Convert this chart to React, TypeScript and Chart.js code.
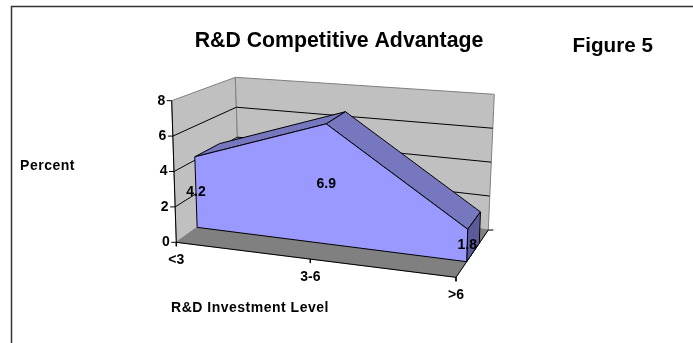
import React, { useEffect, useRef } from "react";
import { Chart, registerables } from "chart.js";

Chart.register(...registerables);

const categories = ["<3", "3-6", ">6"];
const percentValues = [4.2, 6.9, 1.8];
const valueTicks = [0, 2, 4, 6, 8];

const W = 693;
const H = 343;
const V_MAX = 8;

const FONT = '"Liberation Sans", Arial, sans-serif';
const TEXT = "#000000";

// The eight corners of the 3-D box on the canvas.
const BOX = {
  frontLeftBottom: [176.3, 242.3],
  frontLeftTop: [171.7, 100.7],
  frontRightBottom: [456, 277.3],
  frontRightTop: [460, 129],
  backLeftBottom: [239.5, 197],
  backLeftTop: [235.3, 77.3],
  backRightBottom: [488.3, 230],
  backRightTop: [494.3, 94.3],
};

const AREA_FRONT = 0.33;
const AREA_BACK = 0.72;
const PERSPECTIVE = 1.087;

const mix = (a: number[], b: number[], k: number) => [
  a[0] + (b[0] - a[0]) * k,
  a[1] + (b[1] - a[1]) * k,
];

// Maps a category position (0..1), a value and a depth (0..1) onto the box.
function project(t: number, value: number, depth: number) {
  const along = t / (t + (1 - t) * PERSPECTIVE);
  const v = value / V_MAX;
  const fb = mix(BOX.frontLeftBottom, BOX.frontRightBottom, along);
  const ft = mix(BOX.frontLeftTop, BOX.frontRightTop, along);
  const bb = mix(BOX.backLeftBottom, BOX.backRightBottom, along);
  const bt = mix(BOX.backLeftTop, BOX.backRightTop, along);
  const p = mix(mix(fb, ft, v), mix(bb, bt, v), depth);
  return { x: p[0], y: p[1] };
}

const catPos = (i: number) => i / (categories.length - 1);

type Pt = { x: number; y: number };

function shape(data: Pt[], fillColor: string | null, stroke: string, width = 1) {
  return {
    data,
    parsing: false as const,
    showLine: true,
    pointRadius: 0,
    tension: 0,
    borderColor: stroke,
    borderWidth: width,
    backgroundColor: fillColor ?? "transparent",
    fill: fillColor ? ("shape" as const) : false,
  };
}

function buildDatasets() {
  const GREY = "#808080";
  const out: any[] = [];
  // Walls and floor
  out.push(
    shape(
      [project(0, 0, 0), project(0, V_MAX, 0), project(0, V_MAX, 1), project(0, 0, 1), project(0, 0, 0)],
      "#C0C0C0",
      GREY
    )
  );
  out.push(
    shape(
      [project(0, 0, 1), project(0, V_MAX, 1), project(1, V_MAX, 1), project(1, 0, 1), project(0, 0, 1)],
      "#C0C0C0",
      GREY
    )
  );
  out.push(
    shape(
      [project(0, 0, 0), project(1, 0, 0), project(1, 0, 1), project(0, 0, 1), project(0, 0, 0)],
      "#808080",
      GREY
    )
  );
  // Gridlines along the walls
  for (const v of valueTicks.slice(1, -1)) {
    out.push(shape([project(0, v, 0), project(0, v, 1), project(1, v, 1)], null, "#000000"));
  }
  // Axes and their tick marks
  out.push(shape([project(0, V_MAX, 0), project(0, 0, 0)], null, "#000000"));
  out.push(shape([project(0, 0, 0), project(1, 0, 0), project(1, 0, 1)], null, "#000000"));
  for (const v of valueTicks) {
    const p = project(0, v, 0);
    out.push(shape([{ x: p.x - 5, y: p.y }, p], null, "#000000"));
  }
  categories.forEach((_, i) => {
    const p = project(catPos(i), 0, 0);
    out.push(shape([p, { x: p.x, y: p.y + 4 }], null, "#000000"));
  });
  const back = project(1, 0, 1);
  out.push(shape([back, { x: back.x + 5, y: back.y }], null, "#000000"));

  // The area as a solid slab: top faces, end face, then front face
  for (let i = 0; i < percentValues.length - 1; i++) {
    const a = catPos(i);
    const b = catPos(i + 1);
    const va = percentValues[i];
    const vb = percentValues[i + 1];
    out.push(
      shape(
        [
          project(a, va, AREA_FRONT),
          project(b, vb, AREA_FRONT),
          project(b, vb, AREA_BACK),
          project(a, va, AREA_BACK),
          project(a, va, AREA_FRONT),
        ],
        "#7777BF",
        "#000000"
      )
    );
  }
  const last = percentValues.length - 1;
  out.push(
    shape(
      [
        project(1, 0, AREA_FRONT),
        project(1, percentValues[last], AREA_FRONT),
        project(1, percentValues[last], AREA_BACK),
        project(1, 0, AREA_BACK),
        project(1, 0, AREA_FRONT),
      ],
      "#5B5B99",
      "#000000"
    )
  );
  out.push(
    shape(
      [
        project(0, 0, AREA_FRONT),
        ...percentValues.map((v, i) => project(catPos(i), v, AREA_FRONT)),
        project(1, 0, AREA_FRONT),
        project(0, 0, AREA_FRONT),
      ],
      "#9999FF",
      "#000000"
    )
  );
  return out.map((d, i, all) => ({ ...d, order: all.length - i }));
}

// Page frame and all chart text.
const annotations = {
  id: "annotations",
  afterDatasetsDraw(chart: any) {
    const { ctx } = chart;
    ctx.save();
    ctx.strokeStyle = "#333333";
    ctx.lineWidth = 1.5;
    ctx.beginPath();
    ctx.moveTo(11.5, H);
    ctx.lineTo(11.5, 6.5);
    ctx.lineTo(W, 6.5);
    ctx.stroke();

    ctx.fillStyle = TEXT;
    ctx.textBaseline = "middle";
    const put = (
      s: string,
      x: number,
      y: number,
      size: number,
      align: CanvasTextAlign = "center",
      spacing = "0px"
    ) => {
      ctx.font = `bold ${size}px ${FONT}`;
      ctx.letterSpacing = spacing;
      ctx.textAlign = align;
      ctx.fillText(s, x, y);
    };
    put("R&D Competitive Advantage", 339, 40.7, 21.3);
    put("Figure 5", 612.8, 46, 20.7);
    put("Percent", 47.5, 166, 14, "center", "0.5px");
    put("R&D Investment Level", 250, 308, 14, "center", "0.5px");

    valueTicks.forEach((v) => {
      const p = project(0, v, 0);
      put(String(v), p.x - 6.5, p.y, 14, "right");
    });
    categories.forEach((c, i) => {
      const p = project(catPos(i), 0, 0);
      put(c, p.x, p.y + 18, 14);
    });
    percentValues.forEach((v, i) => {
      const p = project(catPos(i), v / 2, AREA_FRONT);
      put(v.toFixed(1), p.x, p.y, 14);
    });
    ctx.restore();
  },
};

export default function App() {
  const ref = useRef<HTMLCanvasElement>(null);
  useEffect(() => {
    const chart = new Chart(ref.current!, {
      type: "scatter",
      data: { datasets: buildDatasets() },
      plugins: [annotations],
      options: {
        animation: false,
        responsive: false,
        layout: { padding: 0 },
        scales: {
          x: { type: "linear", min: 0, max: W, display: false },
          y: { type: "linear", min: 0, max: H, reverse: true, display: false },
        },
        plugins: { legend: { display: false }, tooltip: { enabled: false } },
      },
    } as any);
    return () => chart.destroy();
  }, []);
  return (
    <div style={{ position: "fixed", left: 0, top: 0, width: W, height: H, background: "#fff" }}>
      <canvas ref={ref} width={W} height={H} style={{ display: "block" }} />
    </div>
  );
}
